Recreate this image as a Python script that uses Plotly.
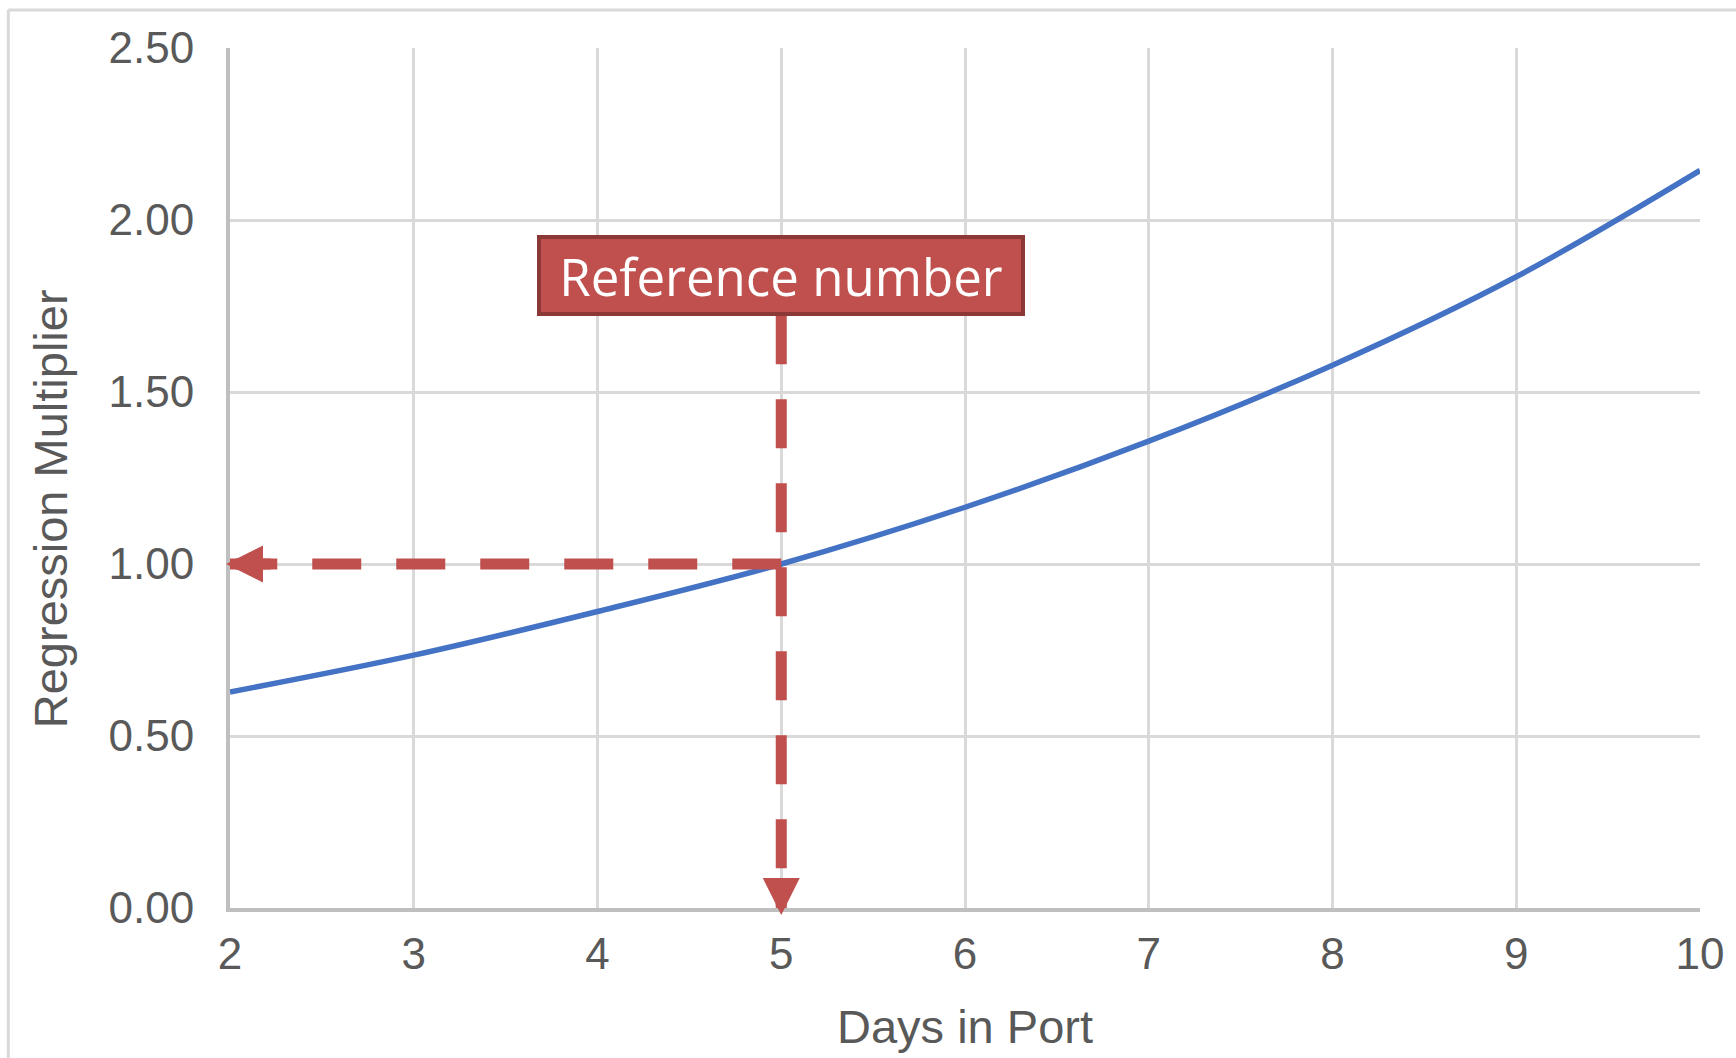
import plotly.graph_objects as go

# Regression multiplier by days spent in port
days = [2, 3, 4, 5, 6, 7, 8, 9, 10]
multiplier = [0.628, 0.735, 0.862, 1.00, 1.165, 1.357, 1.578, 1.835, 2.144]

x_ticks = [2, 3, 4, 5, 6, 7, 8, 9, 10]
y_ticks = [0.0, 0.5, 1.0, 1.5, 2.0, 2.5]
y_tick_text = ["0.00", "0.50", "1.00", "1.50", "2.00", "2.50"]

# Reference point called out on the chart
ref_day = 5
ref_value = 1.00
ref_label = "Reference number"
label_center = 1.84
label_bottom = 1.723

W, H = 1736, 1058
M = dict(l=230, r=34, t=48, b=150)
PW = W - M["l"] - M["r"]
PH = H - M["t"] - M["b"]


def px_x(p):
    return (p - M["l"]) / PW


def px_y(p):
    return 1 - (p - M["t"]) / PH


RED = "#C0504D"
RED_DARK = "#8C3836"
BLUE = "#4472C4"
GRID = "#D9D9D9"
AXIS = "#BFBFBF"
TEXT = "#595959"
TICK_FONT = dict(family="Liberation Sans, Arial, sans-serif", size=44, color=TEXT)
TITLE_FONT = dict(family="Liberation Sans, Arial, sans-serif", size=47, color=TEXT)

fig = go.Figure()

fig.add_trace(go.Scatter(
    x=days, y=multiplier, mode="lines",
    line=dict(color=BLUE, width=5.5, shape="spline"),
    hoverinfo="x+y",
))

# Dashed leader lines from the label down to the axis and across to the y axis
fig.add_trace(go.Scatter(
    x=[ref_day, ref_day], y=[label_bottom, 0], mode="lines",
    line=dict(color=RED, width=11, dash="49px,35px"),
    hoverinfo="skip",
))
fig.add_trace(go.Scatter(
    x=[ref_day, x_ticks[0]], y=[ref_value, ref_value], mode="lines",
    line=dict(color=RED, width=11, dash="49px,35px"),
    hoverinfo="skip",
))

annotations = [
    # arrow heads at the ends of the leader lines
    dict(x=x_ticks[0], y=ref_value, xref="x", yref="y", text="",
         showarrow=True, ax=46, ay=0, xshift=-4, arrowhead=2, arrowsize=7.4 / 11,
         arrowwidth=11, arrowcolor=RED),
    dict(x=ref_day, y=0, xref="x", yref="y", text="",
         showarrow=True, ax=0, ay=-38, yshift=-7, arrowhead=2, arrowsize=7.4 / 11,
         arrowwidth=11, arrowcolor=RED),
    # label box
    dict(x=ref_day, y=label_center, xref="x", yref="y", text=ref_label,
         showarrow=False, bgcolor=RED, bordercolor=RED_DARK, borderwidth=4,
         borderpad=1, width=478, height=71, align="center", valign="middle",
         font=dict(family="Open Sans, Noto Sans, sans-serif", size=51, color="white")),
    # axis titles
    dict(x=px_x(50), y=px_y(509), xref="paper", yref="paper",
         text="Regression Multiplier", textangle=-90, showarrow=False,
         xanchor="center", yanchor="middle", font=TITLE_FONT),
    dict(x=px_x(966), y=px_y(1026), xref="paper", yref="paper",
         text="Days in Port", showarrow=False,
         xanchor="center", yanchor="middle", font=TITLE_FONT),
]

# light outer chart frame
shapes = [
    dict(type="line", xref="paper", yref="paper",
         x0=px_x(8), y0=px_y(10), x1=px_x(W + 20), y1=px_y(10),
         line=dict(color=GRID, width=3), layer="below"),
    dict(type="line", xref="paper", yref="paper",
         x0=px_x(8), y0=px_y(10), x1=px_x(8), y1=px_y(H + 20),
         line=dict(color=GRID, width=3), layer="below"),
]

fig.update_layout(
    width=W, height=H, margin=M,
    paper_bgcolor="white", plot_bgcolor="white",
    showlegend=False,
    annotations=annotations, shapes=shapes,
    xaxis=dict(
        range=[2, 10], tickvals=x_ticks, ticktext=[str(v) for v in x_ticks],
        showgrid=True, gridcolor=GRID, gridwidth=3,
        showline=True, linecolor=AXIS, linewidth=4,
        zeroline=False, ticks="", ticklabelstandoff=4, tickfont=TICK_FONT,
        fixedrange=True,
    ),
    yaxis=dict(
        range=[0, 2.5], tickvals=y_ticks, ticktext=y_tick_text,
        showgrid=True, gridcolor=GRID, gridwidth=3,
        showline=True, linecolor=AXIS, linewidth=4,
        zeroline=False, ticks="", ticklabelstandoff=23, tickfont=TICK_FONT,
        fixedrange=True,
    ),
)

fig.write_html("out.html")
